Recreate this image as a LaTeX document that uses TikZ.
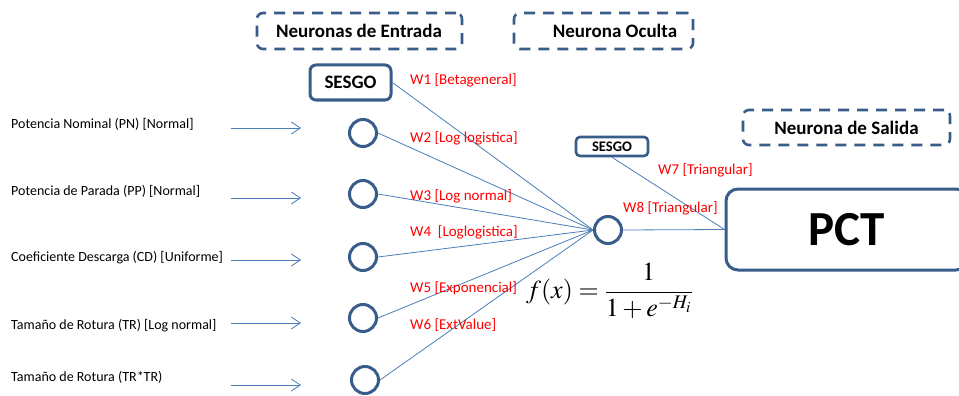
\documentclass[tikz,border=0pt]{standalone}
\usepackage{mathptmx}
\usepackage[no-math]{fontspec}
\setmainfont{Carlito}
\usetikzlibrary{arrows.meta}
\definecolor{conn}{RGB}{74,126,187}
\definecolor{boxc}{RGB}{56,93,138}
\definecolor{wred}{RGB}{255,0,0}
\tikzset{
  hdrbox/.style={draw=boxc, line width=2.6pt, dash pattern=on 11pt off 8pt, rounded corners=6pt, inner sep=0pt},
  hdrtext/.style={font=\fontsize{19}{21}\selectfont\bfseries, inner sep=0pt},
  neuron/.style={circle, draw=boxc, line width=3pt, minimum size=27pt, inner sep=0pt},
  biasbox/.style={draw=boxc, line width=3pt, rounded corners=6pt, inner sep=0pt, font=\bfseries},
  conn/.style={draw=conn, line width=0.8pt},
  inarrow/.style={conn, -{Straight Barb[length=9pt,width=12pt,line width=0.8pt]}},
  inlabel/.style={anchor=west, inner sep=0pt, font=\fontsize{14}{16}\selectfont},
  wlabel/.style={anchor=west, inner sep=0pt, text=wred, font=\fontsize{15}{17}\selectfont}
}
\begin{document}
\begin{tikzpicture}[x=1pt,y=-1pt]
\fill[white] (0,0) rectangle (959,396);
\useasboundingbox (0,0) rectangle (959,396);

% header boxes
\node[hdrbox, minimum width=205pt, minimum height=36pt] (hin) at (359.5,31) {};
\node[hdrtext] (hintext) at (359,31) {Neuronas de Entrada};
\node[hdrbox, minimum width=179pt, minimum height=36pt] (hhid) at (603.5,31) {};
\node[hdrtext] (hhidtext) at (615,31) {Neurona Oculta};
\node[hdrbox, minimum width=207pt, minimum height=35pt] (hout) at (846.5,127.5) {};
\node[hdrtext] (houttext) at (846.5,127.5) {Neurona de Salida};

% bias boxes
\node[biasbox, minimum width=81pt, minimum height=35pt, font=\fontsize{19}{21}\selectfont\bfseries] (sesgo) at (350.5,82.5) {SESGO};
\node[biasbox, line width=2.6pt, rounded corners=4pt, minimum width=72pt, minimum height=19pt, font=\fontsize{14.6}{16}\selectfont\bfseries] (hsesgo) at (612,146.5) {SESGO};

% input neurons
\node[neuron] (i1) at (363,133) {};
\node[neuron] (i2) at (363,194) {};
\node[neuron] (i3) at (363,257) {};
\node[neuron] (i4) at (363,318) {};
\node[neuron] (i5) at (365,380) {};

% hidden neuron
\node[neuron] (h) at (608,230) {};

% output
\node[draw=boxc, line width=3pt, rounded corners=12pt, minimum width=242pt, minimum height=81pt, inner sep=0pt, font=\fontsize{49}{52}\selectfont\bfseries] (pct) at (847,229.5) {PCT};

% input labels
\node[inlabel] (l1) at (11,124) {Potencia Nominal (PN) [Normal]};
\node[inlabel] (l2) at (11,191) {Potencia de Parada (PP) [Normal]};
\node[inlabel] (l3) at (11,258) {Coeficiente Descarga (CD) [Uniforme]};
\node[inlabel] (l4) at (11,326) {Tamaño de Rotura (TR) [Log normal]};
\node[inlabel] (l5) at (11,377) {Tamaño de Rotura (TR*TR)};

% input arrows
\coordinate (a1s) at (231,128); \coordinate (a1e) at (301,128);
\coordinate (a2s) at (231,198); \coordinate (a2e) at (301,198);
\coordinate (a3s) at (231,260); \coordinate (a3e) at (301,260);
\coordinate (a4s) at (231,323); \coordinate (a4e) at (301,323);
\coordinate (a5s) at (231,385); \coordinate (a5e) at (301,385);
\draw[inarrow] (a1s) -- (a1e);
\draw[inarrow] (a2s) -- (a2e);
\draw[inarrow] (a3s) -- (a3e);
\draw[inarrow] (a4s) -- (a4e);
\draw[inarrow] (a5s) -- (a5e);

% connections to hidden
\draw[conn] (sesgo.east) -- (h.west);
\draw[conn] (i1.east) -- (h.west);
\draw[conn] (i2.east) -- (h.west);
\draw[conn] (i3.east) -- (h.west);
\draw[conn] (i4.east) -- (h.west);
\draw[conn] (i5.east) -- (h.west);
\draw[conn] (hsesgo.south) -- (pct.west);
\draw[conn] (h.east) -- (pct.west);

% weight labels
\node[wlabel] (w1) at (410,80) {W1 [Betageneral]};
\node[wlabel] (w2) at (410,138) {W2 [Log logistica]};
\node[wlabel] (w3) at (410,196) {W3 [Log normal]};
\node[wlabel] (w4) at (410,232) {W4\ \ [Loglogistica]};
\node[wlabel] (w5) at (410,288) {W5 [Exponencial]};
\node[wlabel] (w6) at (410,325) {W6 [ExtValue]};
\node[wlabel] (w7) at (658,170) {W7 [Triangular]};
\node[wlabel] (w8) at (623,208) {W8 [Triangular]};

% formula
\node[anchor=west, inner sep=0pt, font=\fontsize{26}{30}\selectfont] (fx) at (526,291) {$\displaystyle f(x)=\frac{1}{1+e^{-H_i}}$};
\end{tikzpicture}
\end{document}
